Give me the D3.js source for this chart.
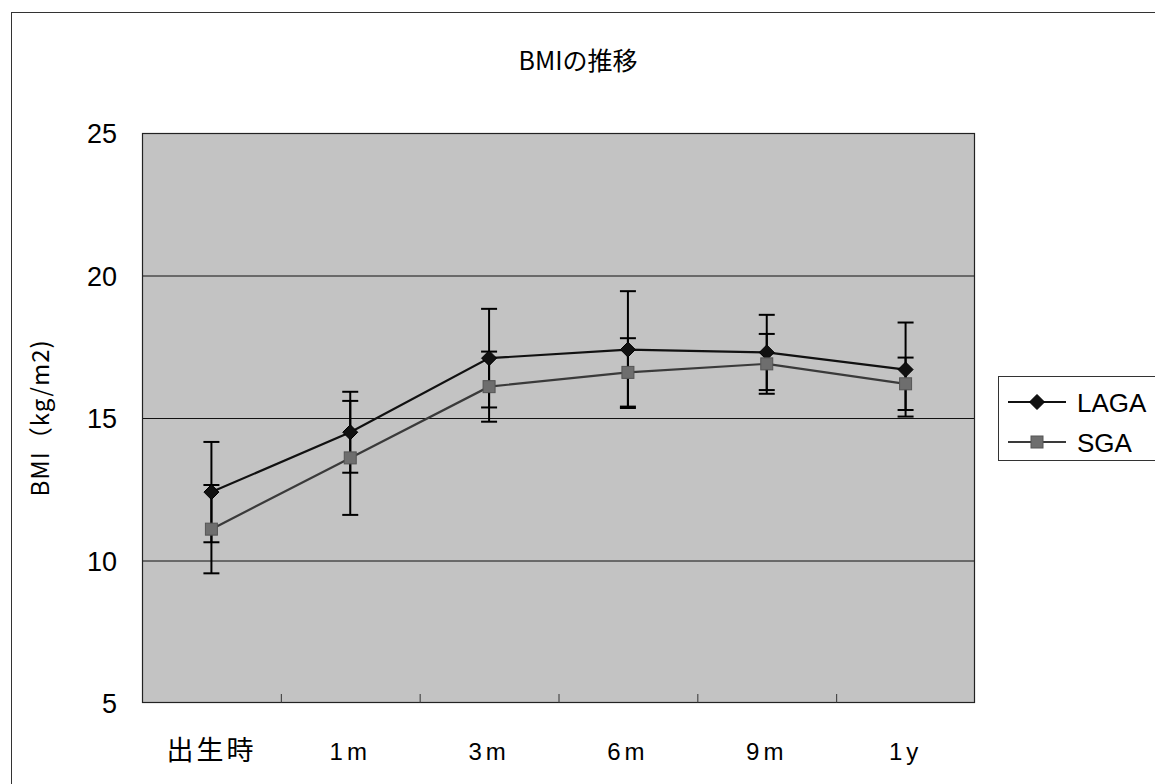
<!DOCTYPE html>
<html>
<head>
<meta charset="utf-8">
<script src="https://cdn.jsdelivr.net/npm/d3@7"></script>
<style>
  html, body { margin: 0; padding: 0; background: #fff; }
  svg { display: block; }
</style>
</head>
<body>
<svg id="chart" width="1155" height="784"></svg>
<script>
// ---- data ----
const categories = ["出生時", "1m", "3m", "6m", "9m", "1y"];
const seriesNames = ["LAGA", "SGA"];
const lagaMean = [12.4, 14.5, 17.1, 17.4, 17.3, 16.7];
const lagaSD   = [1.76, 1.42, 1.73, 2.05, 1.32, 1.65];
const sgaMean  = [11.1, 13.6, 16.1, 16.6, 16.9, 16.2];
const sgaSD    = [1.55, 2.0, 1.23, 1.2, 1.05, 0.92];
const yTicks   = [5, 10, 15, 20, 25];

const series = [
  { name: seriesNames[0], mean: lagaMean, sd: lagaSD, color: "#111", lineColor: "#111", marker: "diamond" },
  { name: seriesNames[1], mean: sgaMean, sd: sgaSD, color: "#6e6e6e", lineColor: "#3a3a3a", marker: "square" }
];

const svg = d3.select("#chart");
const plot = { left: 142, right: 975, top: 133, bottom: 703 };

// outer frame
svg.append("rect").attr("x", 11.5).attr("y", 12.5).attr("width", 1160).attr("height", 790)
  .attr("fill", "#fff").attr("stroke", "#333").attr("stroke-width", 1);

const x = d3.scaleBand().domain(categories).range([plot.left, plot.right]).padding(0);
const y = d3.scaleLinear().domain([5, 25]).range([plot.bottom, plot.top]);
const cx = c => x(c) + x.bandwidth() / 2;

// plot background
svg.append("rect").attr("x", plot.left).attr("y", plot.top)
  .attr("width", plot.right - plot.left).attr("height", plot.bottom - plot.top)
  .attr("fill", "#c3c3c3");

// gridlines
svg.append("g").selectAll("line").data(yTicks.filter(t => t > 5 && t < 25)).join("line")
  .attr("x1", plot.left).attr("x2", plot.right)
  .attr("y1", d => y(d) + 0.5).attr("y2", d => y(d) + 0.5)
  .attr("stroke", "#111").attr("stroke-width", 1);

// border
svg.append("rect").attr("x", plot.left + 0.5).attr("y", plot.top + 0.5)
  .attr("width", plot.right - plot.left - 1).attr("height", plot.bottom - plot.top - 1)
  .attr("fill", "none").attr("stroke", "#222").attr("stroke-width", 1.2);

// x ticks (inside, at category boundaries)
svg.append("g").selectAll("line").data(categories.slice(1)).join("line")
  .attr("x1", d => x(d) + 0.5).attr("x2", d => x(d) + 0.5)
  .attr("y1", plot.bottom).attr("y2", plot.bottom - 9)
  .attr("stroke", "#333").attr("stroke-width", 1);

// y axis labels
const yAxis = d3.axisLeft(y).tickValues(yTicks).tickSize(0).tickPadding(25);
const gy = svg.append("g").attr("transform", `translate(${plot.left},0)`).call(yAxis);
gy.select(".domain").remove();
gy.selectAll("text").attr("font-family", "'Liberation Sans', Arial, sans-serif")
  .attr("font-size", 27).attr("fill", "#000").attr("dy", "0.36em");

// x axis labels
const xAxis = d3.axisBottom(x).tickSize(0).tickPadding(0);
const gx = svg.append("g").attr("transform", `translate(0,${plot.bottom})`).call(xAxis);
gx.select(".domain").remove();
gx.selectAll("text")
  .attr("y", 57).attr("dy", 0)
  .attr("font-family", d => d === "出生時" ? "'Noto Sans CJK JP', sans-serif" : "'Liberation Sans', Arial, sans-serif")
  .attr("font-size", d => d === "出生時" ? 27 : 24)
  .attr("letter-spacing", d => d === "出生時" ? 3 : 4)
  .attr("fill", "#000");

// title
svg.append("text").attr("x", 578).attr("y", 70).attr("text-anchor", "middle")
  .attr("font-family", "'Noto Sans CJK JP', sans-serif").attr("font-size", 25)
  .attr("fill", "#000").text("BMIの推移");

// y axis title
svg.append("text").attr("transform", `translate(49,${(plot.top + plot.bottom) / 2}) rotate(-90)`)
  .attr("text-anchor", "middle")
  .attr("font-family", "'Noto Sans CJK JP', sans-serif").attr("font-size", 24)
  .attr("letter-spacing", 1)
  .attr("fill", "#000").text("BMI（kg/m2)");

// error bars
const capW = 8;
series.forEach(s => {
  const g = svg.append("g");
  categories.forEach((c, i) => {
    const hi = y(s.mean[i] + s.sd[i]), lo = y(s.mean[i] - s.sd[i]);
    const xc = cx(c);
    g.append("line").attr("x1", xc).attr("x2", xc).attr("y1", hi).attr("y2", lo)
      .attr("stroke", "#000").attr("stroke-width", 2);
    [hi, lo].forEach(v => g.append("line").attr("x1", xc - capW).attr("x2", xc + capW)
      .attr("y1", v).attr("y2", v).attr("stroke", "#000").attr("stroke-width", 2));
  });
});

// lines
const line = d3.line().x((d, i) => cx(categories[i])).y(d => y(d));
series.forEach(s => {
  svg.append("path").datum(s.mean).attr("d", line)
    .attr("fill", "none").attr("stroke", s.lineColor).attr("stroke-width", 2.2);
});

// markers
function drawMarker(g, type, px, py, color, size) {
  if (type === "diamond") {
    const h = size / 2 + 1.5;
    g.append("path").attr("d", `M${px},${py - h}L${px + h},${py}L${px},${py + h}L${px - h},${py}Z`)
      .attr("fill", color).attr("stroke", "#000").attr("stroke-width", 1);
  } else {
    g.append("rect").attr("x", px - size / 2).attr("y", py - size / 2)
      .attr("width", size).attr("height", size)
      .attr("fill", color).attr("stroke", "#555").attr("stroke-width", 1);
  }
}
series.forEach(s => {
  const g = svg.append("g");
  categories.forEach((c, i) => {
    drawMarker(g, s.marker, cx(c), y(s.mean[i]), s.color, s.marker === "diamond" ? 12 : 12);
  });
});

// legend
const lg = svg.append("g");
lg.append("rect").attr("x", 998.5).attr("y", 376.5).attr("width", 200).attr("height", 84)
  .attr("fill", "#fff").attr("stroke", "#333").attr("stroke-width", 1);
series.forEach((s, i) => {
  const ly = [402, 442][i];
  lg.append("line").attr("x1", 1008).attr("x2", 1066).attr("y1", ly).attr("y2", ly)
    .attr("stroke", s.lineColor).attr("stroke-width", 2);
  drawMarker(lg, s.marker, 1037, ly, s.color, 12);
  lg.append("text").attr("x", 1077).attr("y", ly + 10)
    .attr("font-family", "'Liberation Sans', Arial, sans-serif").attr("font-size", 26)
    .attr("fill", "#000").text(s.name);
});
</script>
</body>
</html>
